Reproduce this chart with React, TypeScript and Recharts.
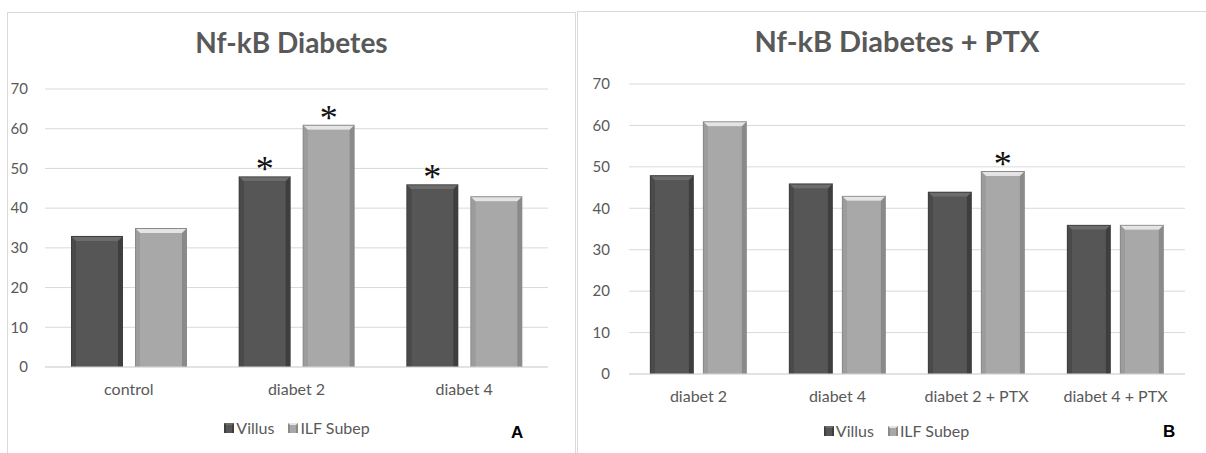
import React from "react";
import { BarChart, Bar, XAxis, YAxis, CartesianGrid, LabelList } from "recharts";

// Panel A
const leftCategories = ["control", "diabet 2", "diabet 4"];
const leftVillus = [33, 48, 46];
const leftIlf = [35, 61, 43];
const leftVillusStar = [false, true, true];
const leftIlfStar = [false, true, false];

// Panel B
const rightCategories = ["diabet 2", "diabet 4", "diabet 2 + PTX", "diabet 4 + PTX"];
const rightVillus = [48, 46, 44, 36];
const rightIlf = [61, 43, 49, 36];
const rightVillusStar = [false, false, false, false];
const rightIlfStar = [false, false, true, false];

const yTicks = [0, 10, 20, 30, 40, 50, 60, 70];

const FONT = "Lato, 'Open Sans', sans-serif";
const TEXT = "#595959";
const GRID = "#d9d9d9";

const DARK = { body: "#565656", edge: "#3e3e3e", light: "#6c6c6c", side: "#4a4a4a" };
const LIGHT = { body: "#a8a8a8", edge: "#8a8a8a", light: "#e4e4e4", side: "#9c9c9c" };

const makeBevel = (c: typeof DARK) => (props: any) => {
  const { x, y, width, height } = props;
  if (!height || height <= 0) return null;
  const b = Math.min(5, width / 4);
  return (
    <g>
      <rect x={x} y={y} width={width} height={height} fill={c.edge} />
      <polygon
        points={`${x + b},${y + b} ${x + b},${y + height} ${x + 1},${y + height} ${x + 1},${y + 1}`}
        fill={c.side}
      />
      <rect x={x + b} y={y + b} width={width - 2 * b} height={height - b} fill={c.body} />
      <polygon
        points={`${x + 1},${y + 1} ${x + width - 1},${y + 1} ${x + width - b},${y + b} ${x + b},${y + b}`}
        fill={c.light}
      />
    </g>
  );
};

const starLabel = (flags: boolean[]) => (props: any) => {
  const { x, y, width, index } = props;
  if (!flags[index]) return null;
  return (
    <text
      x={x + width / 2}
      y={y + 5}
      textAnchor="middle"
      fontFamily="'Liberation Serif', serif"
      fontSize={36}
      fill="#111"
    >
      *
    </text>
  );
};

const LegendSwatch = ({ c }: { c: typeof DARK }) => (
  <svg width={10} height={10} style={{ marginRight: 2 }}>
    <rect x={0} y={0} width={10} height={10} fill={c.edge} />
    <rect x={2} y={2} width={6} height={8} fill={c.body} />
    <polygon points="0,0 10,0 8,2 2,2" fill={c.light} />
  </svg>
);

const LegendContent = () => (
  <div
    style={{
      display: "flex",
      justifyContent: "center",
      alignItems: "center",
      fontFamily: FONT,
      fontSize: 16,
      color: TEXT,
    }}
  >
    <span style={{ display: "flex", alignItems: "center", marginRight: 14 }}>
      <LegendSwatch c={DARK} />
      Villus
    </span>
    <span style={{ display: "flex", alignItems: "center" }}>
      <LegendSwatch c={LIGHT} />
      ILF Subep
    </span>
  </div>
);

interface PanelProps {
  left: number;
  top: number;
  width: number;
  height: number;
  title: string;
  letter: string;
  categories: string[];
  villus: number[];
  ilf: number[];
  villusStar: boolean[];
  ilfStar: boolean[];
  margin: { top: number; right: number; left: number; bottom: number };
  yWidth: number;
  yTickMargin: number;
  barGap: number;
  catGap: string;
  titleTop: number;
  titleSize: number;
  legendTop: number;
  legendLeft: number;
  legendWidth: number;
  letterPos: { left: number; top: number };
}

const Panel: React.FC<PanelProps> = (p) => {
  const data = p.categories.map((name, i) => ({
    name,
    Villus: p.villus[i],
    "ILF Subep": p.ilf[i],
  }));
  return (
    <div
      style={{
        position: "absolute",
        left: p.left,
        top: p.top,
        width: p.width,
        height: p.height + 20,
        borderLeft: `1px solid ${GRID}`,
        borderTop: `1px solid ${GRID}`,
        borderRight: `1px solid ${GRID}`,
        boxSizing: "border-box",
        background: "#fff",
      }}
    >
      <div
        style={{
          position: "absolute",
          left: 0,
          width: "100%",
          top: p.titleTop,
          textAlign: "center",
          fontFamily: FONT,
          fontWeight: 700,
          fontSize: p.titleSize,
          color: TEXT,
        }}
      >
        {p.title}
      </div>
      <div style={{ position: "absolute", left: -1, top: -1 }}>
        <BarChart
          width={p.width}
          height={p.height}
          data={data}
          margin={p.margin}
          barGap={p.barGap}
          barCategoryGap={p.catGap}
        >
          <CartesianGrid vertical={false} stroke={GRID} />
          <XAxis
            dataKey="name"
            axisLine={{ stroke: GRID }}
            tickLine={false}
            tickSize={0}
            tickMargin={17}
            height={40}
            tick={{ fill: TEXT, fontSize: 16, fontFamily: FONT }}
          />
          <YAxis
            domain={[0, 70]}
            ticks={yTicks}
            axisLine={false}
            tickLine={false}
            tickSize={0}
            tickMargin={p.yTickMargin}
            width={p.yWidth}
            tick={{ fill: TEXT, fontSize: 15, fontFamily: FONT }}
          />
          <Bar dataKey="Villus" shape={makeBevel(DARK)} isAnimationActive={false}>
            <LabelList dataKey="Villus" content={starLabel(p.villusStar)} />
          </Bar>
          <Bar dataKey="ILF Subep" shape={makeBevel(LIGHT)} isAnimationActive={false}>
            <LabelList dataKey="ILF Subep" content={starLabel(p.ilfStar)} />
          </Bar>
        </BarChart>
      </div>
      <div style={{ position: "absolute", left: p.legendLeft, top: p.legendTop, width: p.legendWidth }}>
        <LegendContent />
      </div>
      <div
        style={{
          position: "absolute",
          left: p.letterPos.left,
          top: p.letterPos.top,
          fontFamily: "'Liberation Sans', Arial, sans-serif",
          fontWeight: 700,
          fontSize: 17,
          color: "#000",
        }}
      >
        {p.letter}
      </div>
    </div>
  );
};

export default function App() {
  return (
    <div style={{ position: "absolute", left: 0, top: 0, width: 1206, height: 453, background: "#fff", overflow: "hidden" }}>
      <Panel
        left={7}
        top={12}
        width={569}
        height={441}
        title="Nf-kB Diabetes"
        letter="A"
        categories={leftCategories}
        villus={leftVillus}
        ilf={leftIlf}
        villusStar={leftVillusStar}
        ilfStar={leftIlfStar}
        margin={{ top: 77, right: 28, left: 0, bottom: 46 }}
        yWidth={38}
        yTickMargin={17}
        barGap={12}
        catGap="15.5%"
        titleTop={12}
        titleSize={28}
        legendTop={405}
        legendLeft={37}
        legendWidth={504}
        letterPos={{ left: 503, top: 410 }}
      />
      <Panel
        left={577}
        top={11}
        width={640}
        height={442}
        title="Nf-kB Diabetes + PTX"
        letter="B"
        categories={rightCategories}
        villus={rightVillus}
        ilf={rightIlf}
        villusStar={rightVillusStar}
        ilfStar={rightIlfStar}
        margin={{ top: 73, right: 32, left: 0, bottom: 39 }}
        yWidth={52}
        yTickMargin={19}
        barGap={9}
        catGap="15%"
        titleTop={11}
        titleSize={29}
        legendTop={409}
        legendLeft={40}
        legendWidth={557}
        letterPos={{ left: 585, top: 410 }}
      />
    </div>
  );
}
